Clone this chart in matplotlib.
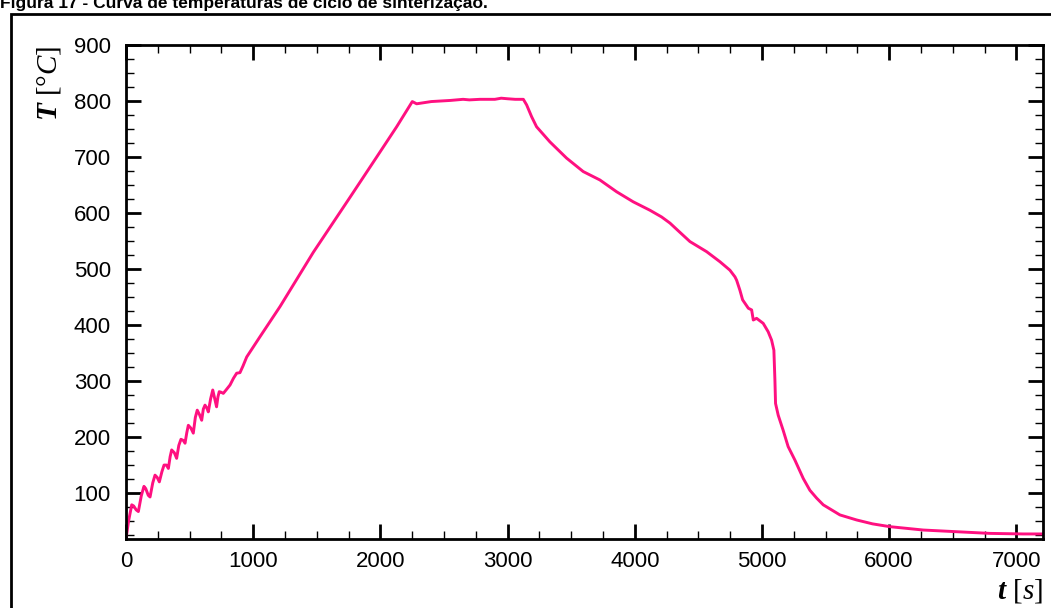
import matplotlib.pyplot as plt
from matplotlib.patches import Rectangle
from matplotlib.ticker import MultipleLocator

# ciclo de sinterizacao: tempo [s] x temperatura [C]
tempo = [0, 20, 45, 60, 80, 97, 120, 141, 155, 175, 189, 210, 228, 245, 262, 282,
         299, 318, 333, 347, 359, 380, 398, 415, 432, 450, 464, 478, 490, 510,
         529, 545, 560, 578, 595, 608, 621, 635, 647, 665, 682, 698, 712, 723,
         733, 748, 765, 790, 818, 845, 870, 896, 920, 949, 1001,
         1053, 1211, 1473, 1761, 1971, 2128, 2251, 2285, 2400, 2550, 2650, 2700,
         2783, 2900, 2950, 3000, 3060, 3124, 3150, 3189, 3228, 3333, 3464, 3595,
         3726, 3857, 3988, 4119, 4211, 4277, 4329, 4434, 4565, 4670, 4748, 4788,
         4801, 4827, 4848, 4866, 4893, 4919, 4932, 4958, 5010, 5049, 5076, 5094,
         5102, 5107, 5128, 5167, 5206, 5259, 5325, 5377, 5430, 5482, 5613, 5744,
         5870, 6006, 6268, 6530, 6792, 7054, 7210]
temperatura = [18, 50, 79, 77, 70, 67, 95, 112, 108, 96, 93, 118, 132, 128, 120,
               138, 150, 150, 144, 165, 177, 172, 162, 185, 196, 194, 189, 208,
               221, 216, 207, 235, 248, 240, 230, 250, 257, 252, 245, 268, 284,
               268, 254, 272, 281, 280, 278, 285, 293, 305, 314, 315, 327, 343, 361,
               379, 433, 530, 628, 700, 754, 799, 795, 799, 801,
               803, 802, 803, 803, 805, 804, 803, 803, 793, 772, 754, 727, 698,
               674, 659, 638, 620, 605, 593, 582, 571, 549, 531, 513, 498, 486,
               480, 462, 445, 439, 430, 427, 409, 412, 403, 388, 373, 355, 302,
               260, 239, 212, 183, 159, 126, 105, 91, 79, 61, 52,
               45, 40, 34, 31, 28, 27, 27]

fig = plt.figure(figsize=(10.51, 6.08), dpi=100)
ax = fig.add_axes([0.1199, 0.1135, 0.8725, 0.8125])

ax.plot(tempo, temperatura, color='#ff1080', lw=2.1, solid_joinstyle='round')

ax.set_xlim(0, 7210)
ax.set_ylim(18, 900)
ax.xaxis.set_major_locator(MultipleLocator(1000))
ax.xaxis.set_minor_locator(MultipleLocator(250))
ax.yaxis.set_major_locator(MultipleLocator(100))
ax.yaxis.set_minor_locator(MultipleLocator(25))
ax.tick_params(which='both', direction='in', top=True, right=True)
ax.tick_params(which='major', length=11, width=2)
ax.tick_params(which='minor', length=6, width=1)
ax.tick_params(axis='x', which='major', pad=9)
ax.tick_params(axis='y', which='major', pad=11)
for lab in ax.get_xticklabels() + ax.get_yticklabels():
    lab.set_fontfamily('Liberation Sans')
    lab.set_fontsize(16)
for s in ax.spines.values():
    s.set_linewidth(2)

plt.rcParams['mathtext.fontset'] = 'custom'
plt.rcParams['mathtext.rm'] = 'Liberation Serif'
plt.rcParams['mathtext.it'] = 'Liberation Serif:italic'
plt.rcParams['mathtext.bf'] = 'Liberation Serif:italic:bold'

fig.text(0.047, 0.925, r'$\mathbf{T}$ [°$\mathit{C}$]', rotation=90,
         fontfamily='Liberation Serif', fontsize=21, ha='center', va='top')
fig.text(0.992, 0.015, r'$\mathbf{t}$ [$\mathit{s}$]',
         fontfamily='Liberation Serif', fontsize=21, ha='right', va='baseline')

# moldura da figura e titulo (cortado no topo, como no original)
fig.patches.append(Rectangle((0.0105, -0.05), 1.2, 1.027, transform=fig.transFigure,
                             fill=False, lw=2, ec='black'))
fig.text(0.0, 1 - 8 / 608, 'Figura 17 - Curva de temperaturas de ciclo de sinterização.',
         fontfamily='Liberation Sans', fontweight='bold', fontsize=12.5,
         ha='left', va='baseline')

plt.savefig('out.png', dpi=100)
